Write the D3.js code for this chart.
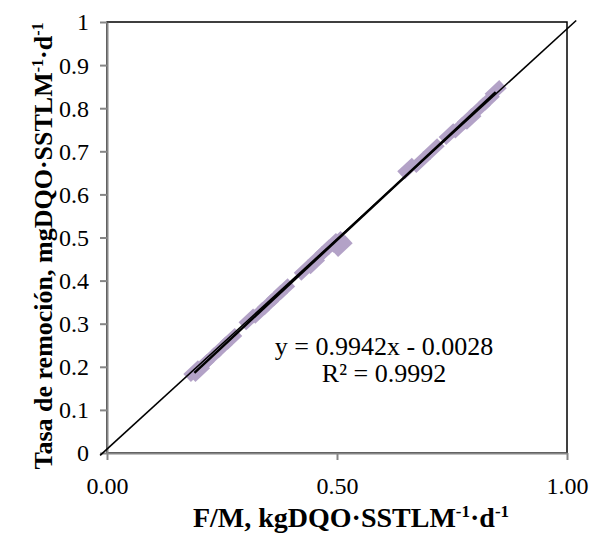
<!DOCTYPE html>
<html><head><meta charset="utf-8">
<script src="https://cdn.jsdelivr.net/npm/d3@7"></script>
<style>body{margin:0;background:#fff}svg{display:block}</style>
</head><body>
<svg id="c" width="590" height="533"></svg>
<script>
// Data (F/M vs removal rate)
const fmValues   = [0.19,0.20,0.21,0.225,0.25,0.27, 0.31,0.33,0.35,0.37,0.385, 0.43,0.45,0.46,0.475,0.49,0.50,0.51, 0.655,0.68,0.71, 0.745,0.765,0.785,0.79,0.81,0.83,0.845];
const rateValues = [0.19,0.19,0.205,0.22,0.245,0.265, 0.31,0.325,0.345,0.365,0.38, 0.425,0.44,0.455,0.47,0.485,0.49,0.48, 0.66,0.675,0.705, 0.74,0.755,0.775,0.775,0.80,0.82,0.84];
const refLineX = [-0.015, 1.02];
const refLineY = [-0.0056, 1.0035];
const trendSlope = 0.9942, trendIntercept = -0.0028;
const xTicks = [0, 0.5, 1.0];
const yTicks = [0,0.1,0.2,0.3,0.4,0.5,0.6,0.7,0.8,0.9,1];
const eqText = "y = 0.9942x - 0.0028";
const r2Text = "R² = 0.9992";

const svg = d3.select("#c");
const L=107, R=567, T=22, B=453;
const x = d3.scaleLinear().domain([0,1]).range([L,R]);
const y = d3.scaleLinear().domain([0,1]).range([B,T]);
const serif = "'Liberation Serif','Times New Roman',serif";

// plot border (top/right)
svg.append("rect").attr("x",L).attr("y",T).attr("width",R-L).attr("height",B-T)
  .attr("fill","none").attr("stroke","#000").attr("stroke-width",1.5);

// axes
const gx = svg.append("g").attr("transform",`translate(0,${B})`)
  .call(d3.axisBottom(x).tickValues(xTicks).tickFormat(d3.format(".2f")).tickSize(7).tickSizeOuter(0));
const gy = svg.append("g").attr("transform",`translate(${L},0)`)
  .call(d3.axisLeft(y).tickValues(yTicks).tickFormat(d=>d===0?"0":d===1?"1":d3.format(".1f")(d)).tickSize(7).tickSizeOuter(0));
[gx,gy].forEach(g=>{
  g.select(".domain").attr("stroke","#868686").attr("stroke-width",2);
  g.selectAll(".tick line").attr("stroke","#868686").attr("stroke-width",2);
  g.selectAll(".tick text").attr("font-family",serif).attr("font-size",24).attr("fill","#000");
});
gx.selectAll(".tick text").attr("dy",0).attr("y",41);
gy.selectAll(".tick text").attr("x",-18).attr("dy","0.33em");

// markers
const ang = Math.atan2(y(1)-y(0), x(1)-x(0))*180/Math.PI;
svg.append("g").selectAll("rect").data(fmValues.map((v,i)=>[v,rateValues[i]])).join("rect")
  .attr("x",-10).attr("y",-5.5).attr("width",20).attr("height",11)
  .attr("fill","#b3a2c7")
  .attr("transform",d=>`translate(${x(d[0])},${y(d[1])}) rotate(${ang})`);

// trendline
const xmin=d3.min(fmValues), xmax=d3.max(fmValues);
svg.append("line").attr("x1",x(xmin)).attr("y1",y(trendSlope*xmin+trendIntercept))
  .attr("x2",x(xmax)).attr("y2",y(trendSlope*xmax+trendIntercept))
  .attr("stroke","#000").attr("stroke-width",2.5);

// reference line
svg.append("line").attr("x1",x(refLineX[0])).attr("y1",y(refLineY[0]))
  .attr("x2",x(refLineX[1])).attr("y2",y(refLineY[1]))
  .attr("stroke","#000").attr("stroke-width",1.6);

// equation
svg.append("text").attr("x",384).attr("y",355).attr("text-anchor","middle")
  .attr("font-family",serif).attr("font-size",26).text(eqText);
svg.append("text").attr("x",384).attr("y",382).attr("text-anchor","middle")
  .attr("font-family",serif).attr("font-size",26).text(r2Text);

// axis titles
const xt = svg.append("text").attr("x",351).attr("y",527).attr("text-anchor","middle")
  .attr("font-family",serif).attr("font-size",28).attr("font-weight","bold");
xt.append("tspan").text("F/M, kgDQO·SSTLM");
xt.append("tspan").attr("dy",-10).attr("font-size",17).text("-1");
xt.append("tspan").attr("dy",10).text("·d");
xt.append("tspan").attr("dy",-10).attr("font-size",17).text("-1");

const yt = svg.append("text").attr("transform","translate(52,246) rotate(-90)").attr("text-anchor","middle")
  .attr("font-family",serif).attr("font-size",26).attr("font-weight","bold");
yt.append("tspan").text("Tasa de remoción, mgDQO·SSTLM");
yt.append("tspan").attr("dy",-9).attr("font-size",16).text("-1");
yt.append("tspan").attr("dy",9).text("·d");
yt.append("tspan").attr("dy",-9).attr("font-size",16).text("-1");
</script>
</body></html>
